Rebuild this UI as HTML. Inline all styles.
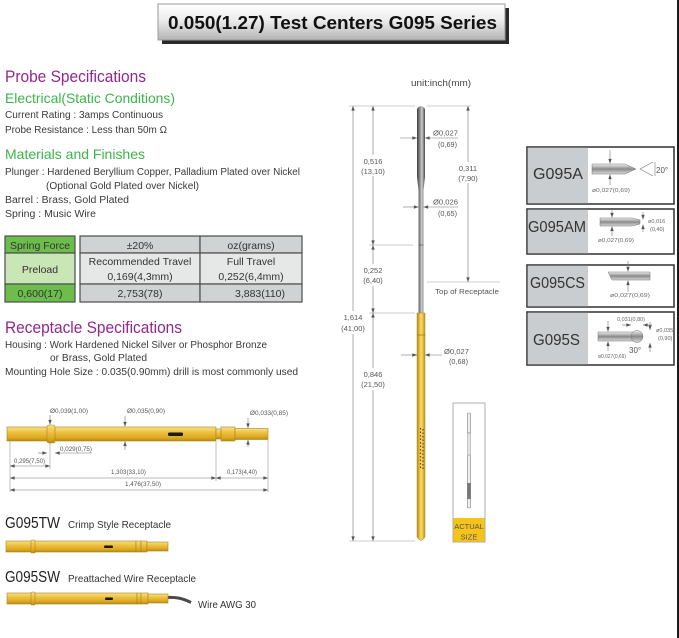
<!DOCTYPE html>
<html><head><meta charset="utf-8"><style>
html,body{margin:0;padding:0;background:#fff;}
svg{display:block}
text{font-family:"Liberation Sans","DejaVu Sans",sans-serif;}
.b{fill:#3a3a3a;font-size:10px}
.d{fill:#555;font-size:6.5px}
.c{fill:#555;font-size:7.5px;text-anchor:middle}
.s{fill:#666;font-size:5.5px}
.dl{stroke:#777;stroke-width:.6;fill:none}
.ln{stroke:#999;stroke-width:.6;fill:none}
.g{stroke:#a88420;stroke-width:.6}
.tb{fill:#333;font-size:10.5px;text-anchor:middle}
.pl{fill:#333;font-size:16px}
</style></head><body>
<svg width="679" height="638" viewBox="0 0 679 638" xmlns="http://www.w3.org/2000/svg">
<defs>
 <linearGradient id="tg" x1="0" y1="0" x2="0" y2="1"><stop offset="0" stop-color="#ffffff"/><stop offset=".45" stop-color="#ececec"/><stop offset="1" stop-color="#b4b4b4"/></linearGradient>
 <linearGradient id="gold" x1="0" y1="0" x2="0" y2="1"><stop offset="0" stop-color="#f7e08a"/><stop offset=".35" stop-color="#efc444"/><stop offset=".75" stop-color="#ddaa22"/><stop offset="1" stop-color="#b88a10"/></linearGradient>
 <linearGradient id="goldh" x1="0" y1="0" x2="1" y2="0"><stop offset="0" stop-color="#b88a10"/><stop offset=".4" stop-color="#f0cc50"/><stop offset=".6" stop-color="#f4d668"/><stop offset="1" stop-color="#c0900f"/></linearGradient>
 <linearGradient id="plg" x1="0" y1="0" x2="1" y2="0"><stop offset="0" stop-color="#3c3c3c"/><stop offset=".45" stop-color="#a0a0a0"/><stop offset=".6" stop-color="#d0d0d0"/><stop offset="1" stop-color="#484848"/></linearGradient>
 <linearGradient id="tip" x1="0" y1="0" x2="0" y2="1"><stop offset="0" stop-color="#f2f2f2"/><stop offset=".5" stop-color="#8a8a8a"/><stop offset="1" stop-color="#dadada"/></linearGradient>
 <marker id="ar" viewBox="0 0 8 6" refX="8" refY="3" markerWidth="5" markerHeight="3.5" markerUnits="userSpaceOnUse" orient="auto-start-reverse"><path d="M0,0L8,3L0,6z" fill="#555"/></marker>
</defs>

<!-- right border -->
<rect x="677" y="0" width="2" height="638" fill="#1a1a1a"/>

<!-- Title -->
<rect x="162" y="8" width="347" height="36" fill="#2a2a2a"/>
<rect x="158" y="4" width="347" height="36" fill="url(#tg)" stroke="#999" stroke-width="1"/>
<text x="168" y="29" font-size="18" font-weight="bold" fill="#111" textLength="329" lengthAdjust="spacingAndGlyphs">0.050(1.27) Test Centers G095 Series</text>

<!-- Probe specs -->
<text x="5" y="82" font-size="16.5" fill="#92278f" textLength="141" lengthAdjust="spacingAndGlyphs">Probe Specifications</text>
<text x="5" y="103" font-size="14" fill="#3cb54a" textLength="170" lengthAdjust="spacingAndGlyphs">Electrical(Static Conditions)</text>
<text class="b" x="5" y="118" textLength="158" lengthAdjust="spacingAndGlyphs">Current Rating  :  3amps Continuous</text>
<text class="b" x="5" y="133" textLength="162" lengthAdjust="spacingAndGlyphs">Probe Resistance  :  Less than 50m Ω</text>
<text x="5" y="159" font-size="14" fill="#3cb54a" textLength="140" lengthAdjust="spacingAndGlyphs">Materials and Finishes</text>
<text class="b" x="5" y="175" textLength="295" lengthAdjust="spacingAndGlyphs">Plunger  :  Hardened Beryllium Copper, Palladium Plated over Nickel</text>
<text class="b" x="46" y="189" textLength="153" lengthAdjust="spacingAndGlyphs">(Optional Gold Plated over Nickel)</text>
<text class="b" x="5" y="203" textLength="124" lengthAdjust="spacingAndGlyphs">Barrel   :  Brass, Gold Plated</text>
<text class="b" x="5" y="217" textLength="91" lengthAdjust="spacingAndGlyphs">Spring  :  Music Wire</text>

<!-- Table -->
<g stroke="#4d4d4d" stroke-width="1.2">
<rect x="5" y="236" width="70" height="17" fill="#6cbd4c"/>
<rect x="5" y="253" width="70" height="31" fill="#c8e6b6"/>
<rect x="5" y="284" width="70" height="18" fill="#6cbd4c"/>
<rect x="80" y="236" width="120" height="17" fill="#cfd3d3"/>
<rect x="200" y="236" width="102" height="17" fill="#cfd3d3"/>
<rect x="80" y="253" width="120" height="31" fill="#e6e8e8"/>
<rect x="200" y="253" width="102" height="31" fill="#e6e8e8"/>
<rect x="80" y="284" width="120" height="18" fill="#cfd3d3"/>
<rect x="200" y="284" width="102" height="18" fill="#cfd3d3"/>
</g>
<text class="tb" x="40" y="249">Spring Force</text>
<text class="tb" x="40" y="273" font-size="11.5">Preload</text>
<text class="tb" x="40" y="297">0,600(17)</text>
<text class="tb" x="140" y="249">±20%</text>
<text class="tb" x="251" y="249">oz(grams)</text>
<text class="tb" x="140" y="265">Recommended Travel</text>
<text class="tb" x="140" y="280">0,169(4,3mm)</text>
<text class="tb" x="251" y="265">Full Travel</text>
<text class="tb" x="251" y="280">0,252(6,4mm)</text>
<text class="tb" x="140" y="297">2,753(78)</text>
<text class="tb" x="260" y="297">3,883(110)</text>

<!-- Receptacle specs -->
<text x="5" y="333" font-size="16.5" fill="#92278f" textLength="177" lengthAdjust="spacingAndGlyphs">Receptacle Specifications</text>
<text class="b" x="5" y="348" textLength="262" lengthAdjust="spacingAndGlyphs">Housing  :  Work Hardened Nickel Silver or Phosphor Bronze</text>
<text class="b" x="50" y="361" textLength="97" lengthAdjust="spacingAndGlyphs">or Brass, Gold Plated</text>
<text class="b" x="5" y="375" textLength="293" lengthAdjust="spacingAndGlyphs">Mounting Hole Size  :  0.035(0.90mm) drill is most commonly used</text>

<!-- Main receptacle drawing -->
<g class="g">
<rect x="7" y="427" width="209" height="14" fill="url(#gold)"/>
<rect x="47" y="425" width="8" height="18" rx="2" fill="url(#gold)"/>
<rect x="216" y="429" width="5" height="10" fill="url(#gold)"/>
<rect x="221" y="427" width="14" height="14" fill="url(#gold)"/>
<rect x="235" y="428.5" width="33" height="11" fill="url(#gold)"/>
</g>
<rect x="168" y="432.5" width="15" height="3.5" rx="1.5" fill="#1a1a1a"/>
<!-- extension lines -->
<line class="ln" x1="10" y1="441" x2="10" y2="492"/>
<line class="ln" x1="50" y1="443" x2="50" y2="469"/>
<line class="ln" x1="216" y1="441" x2="216" y2="481"/>
<line class="ln" x1="268" y1="440" x2="268" y2="492"/>
<!-- labels -->
<text class="d" x="50" y="413" textLength="38" lengthAdjust="spacingAndGlyphs">Ø0,039(1,00)</text>
<line class="dl" x1="50" y1="415" x2="50" y2="424.5" marker-end="url(#ar)"/>
<text class="d" x="127" y="413" textLength="38" lengthAdjust="spacingAndGlyphs">Ø0,035(0,90)</text>
<line class="dl" x1="125" y1="416" x2="125" y2="426.5" marker-end="url(#ar)"/>
<line class="dl" x1="125" y1="450" x2="125" y2="441.5" marker-end="url(#ar)"/>
<text class="d" x="250" y="415" textLength="38" lengthAdjust="spacingAndGlyphs">Ø0,033(0,85)</text>
<line class="dl" x1="248" y1="418" x2="248" y2="428" marker-end="url(#ar)"/>
<line class="dl" x1="248" y1="447" x2="248" y2="440" marker-end="url(#ar)"/>
<text class="d" x="60" y="451" textLength="32" lengthAdjust="spacingAndGlyphs">0,029(0,75)</text>
<line class="dl" x1="38" y1="453" x2="47" y2="453" marker-end="url(#ar)"/>
<line class="dl" x1="92" y1="453" x2="55" y2="453" marker-end="url(#ar)"/>
<text class="d" x="14" y="463" textLength="31" lengthAdjust="spacingAndGlyphs">0,295(7,50)</text>
<line class="dl" x1="10" y1="466" x2="50" y2="466" marker-start="url(#ar)" marker-end="url(#ar)"/>
<text class="d" x="111" y="474" textLength="35" lengthAdjust="spacingAndGlyphs">1,303(33,10)</text>
<line class="dl" x1="10" y1="478" x2="216" y2="478" marker-start="url(#ar)" marker-end="url(#ar)"/>
<text class="d" x="227" y="474" textLength="30" lengthAdjust="spacingAndGlyphs">0,173(4,40)</text>
<line class="dl" x1="216" y1="478" x2="268" y2="478" marker-start="url(#ar)" marker-end="url(#ar)"/>
<text class="d" x="125" y="486" textLength="36" lengthAdjust="spacingAndGlyphs">1,476(37,50)</text>
<line class="dl" x1="10" y1="490" x2="268" y2="490" marker-start="url(#ar)" marker-end="url(#ar)"/>

<!-- G095TW -->
<text x="5" y="528" font-size="16" fill="#222" textLength="55" lengthAdjust="spacingAndGlyphs">G095TW</text>
<text x="68" y="528" font-size="10.5" fill="#333" textLength="103" lengthAdjust="spacingAndGlyphs">Crimp Style Receptacle</text>
<g class="g">
<rect x="6" y="541" width="130" height="11" fill="url(#gold)"/>
<rect x="31" y="540" width="4" height="13" rx="1" fill="url(#gold)"/>
<rect x="136" y="541" width="5" height="11" fill="url(#gold)"/>
<rect x="141" y="541" width="6" height="11" fill="url(#gold)"/>
<rect x="147" y="542" width="21" height="9" fill="url(#gold)"/>
</g>
<rect x="104" y="545.5" width="9" height="2.5" rx="1" fill="#1a1a1a"/>

<!-- G095SW -->
<text x="5" y="582" font-size="16" fill="#222" textLength="55" lengthAdjust="spacingAndGlyphs">G095SW</text>
<text x="68" y="582" font-size="10.5" fill="#333" textLength="128" lengthAdjust="spacingAndGlyphs">Preattached Wire Receptacle</text>
<path d="M166,597.5 C176,597 182,598 191,602.5" stroke="#4a4a4a" stroke-width="3" fill="none"/>
<g class="g">
<rect x="7" y="593" width="130" height="11" fill="url(#gold)"/>
<rect x="31" y="592" width="4" height="13" rx="1" fill="url(#gold)"/>
<rect x="137" y="593" width="4" height="11" fill="url(#gold)"/>
<rect x="141" y="593" width="7" height="11" fill="url(#gold)"/>
<rect x="148" y="594" width="20" height="9" fill="url(#gold)"/>
</g>
<rect x="105" y="597.5" width="8" height="2.5" rx="1" fill="#1a1a1a"/>
<text x="198" y="608" font-size="10" fill="#333" textLength="58" lengthAdjust="spacingAndGlyphs">Wire  AWG  30</text>

<!-- Center probe drawing -->
<text x="411" y="86" font-size="9" fill="#444" textLength="60" lengthAdjust="spacingAndGlyphs">unit:inch(mm)</text>
<!-- extension lines -->
<line class="ln" x1="349" y1="106" x2="415" y2="106"/>
<line class="ln" x1="427" y1="106" x2="471" y2="106"/>
<line class="ln" x1="369" y1="245" x2="413" y2="245"/>
<line class="ln" x1="369" y1="313" x2="415" y2="313"/>
<line class="ln" x1="349" y1="541" x2="415" y2="541"/>
<line class="ln" x1="427" y1="282" x2="500" y2="282"/>
<text x="435" y="294" font-size="7.5" fill="#555" textLength="64" lengthAdjust="spacingAndGlyphs">Top of Receptacle</text>
<!-- vertical dims -->
<line class="dl" x1="353" y1="106" x2="353" y2="541" marker-start="url(#ar)" marker-end="url(#ar)"/>
<line class="dl" x1="373" y1="106" x2="373" y2="245" marker-start="url(#ar)" marker-end="url(#ar)"/>
<line class="dl" x1="373" y1="245" x2="373" y2="313" marker-start="url(#ar)" marker-end="url(#ar)"/>
<line class="dl" x1="373" y1="313" x2="373" y2="541" marker-start="url(#ar)" marker-end="url(#ar)"/>
<line class="dl" x1="468" y1="106" x2="468" y2="282" marker-start="url(#ar)" marker-end="url(#ar)"/>
<g fill="#fff">
<rect x="340" y="311" width="26" height="23"/>
<rect x="362" y="155" width="22" height="21"/>
<rect x="362" y="264" width="22" height="22"/>
<rect x="360" y="368" width="26" height="22"/>
<rect x="457" y="162" width="22" height="21"/>
</g>
<text class="c" x="353" y="320">1,614</text>
<text class="c" x="353" y="331">(41,00)</text>
<text class="c" x="373" y="164">0,516</text>
<text class="c" x="373" y="174">(13,10)</text>
<text class="c" x="373" y="273">0,252</text>
<text class="c" x="373" y="283">(6,40)</text>
<text class="c" x="373" y="377">0,846</text>
<text class="c" x="373" y="387">(21,50)</text>
<text class="c" x="468" y="171">0,311</text>
<text class="c" x="468" y="181">(7,90)</text>
<!-- plunger -->
<path d="M417,109 Q421,103 425,109 L425,177 L423.5,190 L423.5,313 L418.5,313 L418.5,190 L417,177 Z" fill="url(#plg)"/>
<line x1="418.5" y1="245" x2="423.5" y2="245" stroke="#333" stroke-width=".5"/>
<!-- barrel -->
<path d="M417,313 L425,313 L425,537 Q421,544 417,537 Z" fill="url(#goldh)" stroke="#b08a20" stroke-width=".5"/>
<line x1="417" y1="335" x2="425" y2="335" stroke="#9a7410" stroke-width=".7"/>
<line x1="420.5" y1="428" x2="420.5" y2="470" stroke="#6a4a08" stroke-width="1.2" stroke-dasharray="1.5 2"/>
<line x1="423" y1="429" x2="423" y2="471" stroke="#6a4a08" stroke-width="1.2" stroke-dasharray="1.5 2"/>
<!-- diameter callouts -->
<line class="dl" x1="400" y1="138" x2="417" y2="138" marker-end="url(#ar)"/>
<line class="dl" x1="458" y1="138" x2="425" y2="138" marker-end="url(#ar)"/>
<text x="433" y="135.5" font-size="7.5" fill="#555" textLength="25" lengthAdjust="spacingAndGlyphs">Ø0,027</text>
<text x="438" y="147" font-size="7.5" fill="#555" textLength="19" lengthAdjust="spacingAndGlyphs">(0,69)</text>
<line class="dl" x1="403" y1="207" x2="418.5" y2="207" marker-end="url(#ar)"/>
<line class="dl" x1="458" y1="207" x2="423.5" y2="207" marker-end="url(#ar)"/>
<text x="433" y="204.5" font-size="7.5" fill="#555" textLength="25" lengthAdjust="spacingAndGlyphs">Ø0,026</text>
<text x="438" y="216" font-size="7.5" fill="#555" textLength="19" lengthAdjust="spacingAndGlyphs">(0,65)</text>
<line class="dl" x1="401" y1="355" x2="417" y2="355" marker-end="url(#ar)"/>
<line class="dl" x1="442" y1="355" x2="425" y2="355" marker-end="url(#ar)"/>
<text x="444" y="354" font-size="7.5" fill="#555" textLength="25" lengthAdjust="spacingAndGlyphs">Ø0,027</text>
<text x="449" y="364" font-size="7.5" fill="#555" textLength="19" lengthAdjust="spacingAndGlyphs">(0,68)</text>

<!-- Actual size -->
<rect x="453" y="403" width="32" height="139" fill="#fff" stroke="#999" stroke-width=".8"/>
<rect x="453.4" y="518" width="31.2" height="23.6" fill="#f5c31a"/>
<text x="469" y="529" font-size="7.5" fill="#555" text-anchor="middle">ACTUAL</text>
<text x="469" y="539.5" font-size="7.5" fill="#555" text-anchor="middle">SIZE</text>
<g stroke="#888" stroke-width=".6" fill="#eee">
<rect x="467.3" y="413" width="3.4" height="20" rx="1"/>
<rect x="467.8" y="433" width="2.4" height="22"/>
<rect x="467.3" y="455" width="3.4" height="53" rx="1.5"/>
</g>
<rect x="467.5" y="483" width="3" height="16" fill="#777"/>

<!-- Right panels -->
<g>
<rect x="527" y="147" width="147" height="57" fill="#fff" stroke="#3d3d3d" stroke-width="1.6"/>
<rect x="527.8" y="147.8" width="60.2" height="55.4" fill="#c9cdcf"/>
<text class="pl" x="533" y="179" textLength="50" lengthAdjust="spacingAndGlyphs">G095A</text>
<polygon points="592,164 625,164 636,169 625,174 592,174" fill="url(#tip)" stroke="#777" stroke-width=".5"/>
<polyline points="653,162 640,169 653,176" fill="none" stroke="#777" stroke-width=".6"/>
<line x1="655" y1="162" x2="655" y2="176" stroke="#777" stroke-width=".6"/>
<text x="656" y="173" font-size="8" fill="#555">20°</text>
<line class="dl" x1="610" y1="150" x2="610" y2="163.5" marker-end="url(#ar)"/>
<line class="dl" x1="610" y1="185" x2="610" y2="174.5" marker-end="url(#ar)"/>
<text class="s" x="592" y="192" textLength="38" lengthAdjust="spacingAndGlyphs">ø0,027(0,69)</text>
</g>
<g>
<rect x="527" y="209" width="147" height="45" fill="#fff" stroke="#3d3d3d" stroke-width="1.6"/>
<rect x="527.8" y="209.8" width="60.2" height="43.4" fill="#c9cdcf"/>
<text class="pl" x="528" y="232" textLength="58" lengthAdjust="spacingAndGlyphs">G095AM</text>
<polygon points="600,218 632,218 640,220 640,224 632,226 600,226" fill="url(#tip)" stroke="#777" stroke-width=".5"/>
<line class="dl" x1="612" y1="209" x2="612" y2="217.5" marker-end="url(#ar)"/>
<line class="dl" x1="612" y1="236" x2="612" y2="226.5" marker-end="url(#ar)"/>
<line class="dl" x1="643" y1="212" x2="643" y2="219.5" marker-end="url(#ar)"/>
<line class="dl" x1="643" y1="232" x2="643" y2="224.5" marker-end="url(#ar)"/>
<text class="s" x="648" y="223">ø0,016</text>
<text class="s" x="650" y="231">(0,40)</text>
<text class="s" x="598" y="242" textLength="36" lengthAdjust="spacingAndGlyphs">ø0,027(0,69)</text>
</g>
<g>
<rect x="527" y="265" width="147" height="42" fill="#fff" stroke="#3d3d3d" stroke-width="1.6"/>
<rect x="527.8" y="265.8" width="60.2" height="40.4" fill="#c9cdcf"/>
<text class="pl" x="530" y="288" textLength="55" lengthAdjust="spacingAndGlyphs">G095CS</text>
<polygon points="608,272 650,272 650,280 612,280" fill="url(#tip)" stroke="#777" stroke-width=".5"/>
<line class="dl" x1="628" y1="261" x2="628" y2="271.5" marker-end="url(#ar)"/>
<line class="dl" x1="628" y1="292" x2="628" y2="280.5" marker-end="url(#ar)"/>
<text class="s" x="610" y="297" textLength="40" lengthAdjust="spacingAndGlyphs">ø0,027(0,69)</text>
</g>
<g>
<rect x="527" y="312" width="147" height="53" fill="#fff" stroke="#3d3d3d" stroke-width="1.6"/>
<rect x="527.8" y="312.8" width="60.2" height="51.4" fill="#c9cdcf"/>
<text class="pl" x="533" y="345" textLength="47" lengthAdjust="spacingAndGlyphs">G095S</text>
<rect x="598" y="332" width="35" height="9" fill="url(#tip)" stroke="#777" stroke-width=".5"/>
<circle cx="637" cy="336.5" r="6" fill="url(#tip)" stroke="#777" stroke-width=".5"/>
<text class="s" x="617" y="321" textLength="28" lengthAdjust="spacingAndGlyphs">0,031(0,80)</text>
<line class="dl" x1="622" y1="325" x2="631" y2="325" marker-end="url(#ar)"/>
<line class="dl" x1="652" y1="325" x2="643" y2="325" marker-end="url(#ar)"/>
<line class="dl" x1="650" y1="322" x2="650" y2="330" marker-end="url(#ar)"/>
<line class="dl" x1="650" y1="352" x2="650" y2="343" marker-end="url(#ar)"/>
<text class="s" x="656" y="332">ø0,035</text>
<text class="s" x="658" y="340">(0,90)</text>
<text x="629" y="353" font-size="8" fill="#555">30°</text>
<line class="dl" x1="608" y1="321" x2="608" y2="331.5" marker-end="url(#ar)"/>
<line class="dl" x1="608" y1="351" x2="608" y2="341.5" marker-end="url(#ar)"/>
<text class="s" x="598" y="358" textLength="28" lengthAdjust="spacingAndGlyphs">ø0,027(0,69)</text>
</g>
</svg>
</body></html>
